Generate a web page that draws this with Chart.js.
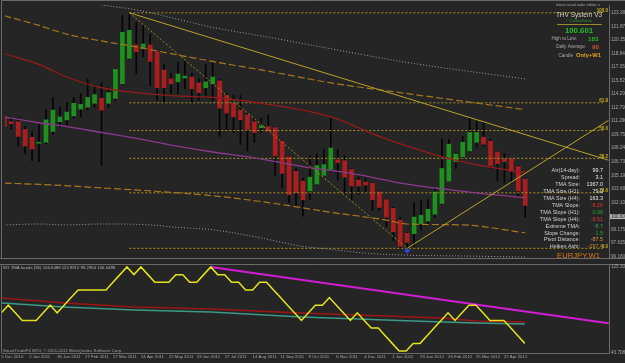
<!DOCTYPE html>
<html><head><meta charset="utf-8">
<script src="https://cdn.jsdelivr.net/npm/chart.js@4.4.0/dist/chart.umd.min.js"></script>
<style>
html,body{margin:0;padding:0;background:#252525;overflow:hidden}
#wrap{position:relative;width:625px;height:363px;background:#252525}
#main{position:absolute;left:0;top:0}
#sub{position:absolute;left:0;top:264px}
</style></head><body>
<div id="wrap">
<canvas id="main" width="625" height="263"></canvas>
<canvas id="sub" width="625" height="99"></canvas>
</div>
<script>
// ── look ─────────────────────────────────────────────────────────────────────
const FONT='"Liberation Sans", Arial, sans-serif';
const FRAME='#6a6a6a', AXIS_TXT='#a8a8a8';
const UP='#1d901d', DN='#ac1e1e';
const X_MIN=0.1, X_MAX=87.06;   // bar index range visible in the window

// ── Heiken Ashi weekly candles, EURJPY W1 (bar 0 = week of 5 Dec 2010) ──────
const haOpen=[111.74,111.20,111.20,110.33,109.46,108.80,108.91,110.11,111.20,111.41,
111.85,112.61,112.83,113.26,113.81,113.26,113.81,115.44,118.27,119.79,
119.36,119.79,119.03,116.96,115.98,115.66,116.09,116.20,115.55,115.00,
115.44,115.77,114.13,113.26,112.50,111.96,111.20,110.54,110.65,110.54,
109.02,107.28,105.65,104.56,103.47,104.23,105.21,105.87,106.95,106.85,
105.87,104.67,104.45,104.34,103.36,102.49,101.52,100.21,98.74,98.69,
99.78,100.10,100.86,102.06,104.56,106.74,107.28,107.93,108.91,109.46,
109.02,107.82,107.06,107.06,106.19,104.78];
const haHigh=[112.30,111.63,111.63,110.65,110.11,110.87,112.50,113.92,112.83,113.37,
113.92,114.35,115.98,115.22,115.55,115.00,117.18,123.05,123.38,122.29,
121.97,120.99,119.03,117.61,116.64,117.83,117.94,116.64,115.98,117.61,
117.72,115.98,114.35,114.13,114.13,112.10,111.60,111.63,111.96,110.60,
109.10,107.35,105.98,104.89,107.39,107.61,108.15,111.63,108.15,107.39,
105.98,105.00,104.89,104.40,103.47,102.60,101.62,100.54,98.80,102.17,
102.39,102.49,103.80,109.24,109.24,107.82,109.57,111.63,111.20,111.20,
109.24,107.90,107.61,107.10,106.30,104.89];
const haLow=[110.20,110.33,108.48,107.61,106.85,106.74,108.69,109.78,110.65,110.87,
111.63,111.74,112.50,112.83,106.30,112.83,113.59,115.30,118.16,116.53,
118.48,115.22,113.59,113.37,114.35,114.35,114.89,113.37,113.59,113.92,
113.59,109.57,110.33,110.00,108.69,107.93,108.91,110.00,110.00,105.21,
103.80,102.17,101.84,100.64,102.49,104.13,105.11,105.65,104.67,103.04,
102.49,103.04,103.26,101.30,101.30,99.45,97.93,97.10,97.05,97.27,
99.12,99.77,100.54,101.95,104.50,105.98,107.06,107.82,108.37,108.48,
105.98,104.56,104.34,104.34,102.71,100.54];
const haClose=[110.65,110.98,109.57,108.48,108.15,108.91,111.41,112.50,111.74,112.28,
113.26,113.15,113.92,114.24,112.50,114.46,117.07,121.20,121.42,119.03,
119.90,117.94,115.00,115.00,115.44,116.53,116.31,114.89,114.46,115.66,
116.20,112.72,112.18,111.74,111.41,110.33,110.00,110.76,110.11,107.39,
105.43,103.04,103.26,102.49,105.00,106.30,106.41,108.26,106.63,105.00,
104.02,104.02,104.13,102.49,101.62,100.54,98.90,97.27,97.71,100.54,
100.75,101.41,103.36,105.98,108.69,107.61,108.91,110.00,110.00,108.69,
106.30,106.52,106.74,105.65,103.47,101.84];

// ── indicator lines on the price window (bar index / price)
const upBandX=[0,5,9,14,19,24,30,38,47,58,75];
const upBandY=[123.05,121.97,120.99,120.23,119.57,118.81,117.94,116.85,115.55,114.35,112.55];
const loBandX=[0,7,14,21,30,38,47,55,58,66,75];
const loBandY=[104.34,104.13,103.80,103.47,102.93,102.17,101.08,100.21,99.77,99.67,98.79];
const redMaX=[0,5,9,14,19,24,30,38,47,54,58,63,68,73,75];
const redMaY=[118.81,117.61,116.20,115.00,114.46,114.13,113.92,113.15,111.74,109.57,108.48,107.28,106.41,105.76,105.54];
const purpMaX=[0,5,9,14,19,24,30,36,43,50,58,68,75];
const purpMaY=[111.74,111.09,110.65,110.00,109.35,108.59,107.82,107.17,106.19,105.43,104.23,103.26,102.71];
const grayUpX=[14,19,24,30,38,47,58,75];
const grayUpY=[124.25,123.71,122.84,121.75,120.66,119.36,117.83,115.98];
const grayLoX=[0,5,9,14,21,24,30,36,43,47,52,58,67,75];
const grayLoY=[99.67,99.77,99.67,99.77,99.67,99.45,99.12,98.36,97.27,96.94,96.51,96.29,96.18,96.07];

// ── drawn objects: fibo retracement + two trend lines
const fibStart=18, fibEnd=86.2, fibLowBar=58;
const fibPrices=[97.05,103.26,107.11,110.22,113.32,123.38];
const fibLabels=['0.0','23.6','38.2','50.0','61.8','100.0'];
const trendDownX=[18,87], trendDownY=[123.38,106.90];
const trendUpX=[58,87],   trendUpY=[97.05,111.36];
const markerX=[58], markerY=[96.78];

// ── right price scale
const priceTicks=[123.380,121.870,120.355,118.840,117.350,115.825,114.290,112.795,111.290,109.750,
108.240,106.735,105.190,103.680,102.100,99.175,97.635,96.160];
const bidPrice=100.601;

// ── sub window (TMA bands oscillator), values in window units
const yellowSub=[5,6,5,4,4,4,5,6,5,6,7,8,8,8,8,8,9,10,11,10,
11,10,9,9,9,10,10,9,9,10,11,10,10,9,9,8,8,9,9,8,
7,6,5,4,5,6,6,7,6,5,4,5,4,3,3,2,1,0,0,1,
1,2,3,4,5,4,5,6,6,5,4,4,4,3,2,1];
const magentaX=[30,87], magentaY=[11,3.62];
const redSubX=[0,9,19,30,43,59,63,68,75];
const redSubY=[6.94,6.29,5.76,5.50,4.98,4.45,4.32,3.93,3.80];
const tealSubX=[0,9,19,30,43,59,68,75];
const tealSubY=[6.29,5.76,5.37,5.11,4.45,3.93,3.67,3.54];
const subScaleLabels=['125.307','43.7087'];

// ── time axis
const dateBars=[0,4,8,12,16,20,24,28,32,36,40,44,48,52,56,60,64,68,72];
const dateLabels=['5 Dec 2010','2 Jan 2011','30 Jan 2011','27 Feb 2011','27 Mar 2011','24 Apr 2011',
'22 May 2011','19 Jun 2011','17 Jul 2011','14 Aug 2011','11 Sep 2011','9 Oct 2011','6 Nov 2011',
'4 Dec 2011','1 Jan 2012','29 Jan 2012','26 Feb 2012','25 Mar 2012','22 Apr 2012'];

// ── text panels
const infoLabels=['Atr(14-day):','Spread:','TMA Size:','TMA Size (H1):','TMA Size (H4):','TMA Slope:',
'TMA Slope (H1):','TMA Slope (H4):','Extreme TMA:','Slope Change:','Pivot Distance:','Heiken Ashi:'];
const infoValues=['99.7','3.1','1367.0','79.2','163.3','-8.26','0.08','-8.51','-8.7','1.5','-87.5','-297.4'];
const infoColors=['#e6e6e6','#e6e6e6','#e6e6e6','#e6e6e6','#e6e6e6','#e03232','#2aa02a','#e03232','#3e9a4a','#2aa02a','#d89a30','#c88c32'];

function pts(xs,ys){return xs.map((x,i)=>({x,y:ys[i]}));}
function put(ctx,s,x,y,size,color,align,bold){
  ctx.font=(bold?'bold ':'')+size+'px '+FONT;
  ctx.fillStyle=color;ctx.textAlign=align||'left';ctx.textBaseline='middle';
  ctx.fillText(s,x,y);
}
function line(xs,ys,color,width,dash,order,tension){
  return {type:'line',data:pts(xs,ys),borderColor:color,borderWidth:width,borderDash:dash||[],
    pointRadius:0,tension:tension||0,cubicInterpolationMode:tension?'monotone':'default',order:order||1};
}

// ── price window ─────────────────────────────────────────────────────────────
const wick=haOpen.map((o,i)=>({x:i,y:[haLow[i],haHigh[i]]}));
const body=haOpen.map((o,i)=>({x:i,y:[o,haClose[i]]}));
const bodyCol=haOpen.map((o,i)=>haClose[i]>=o?UP:DN);

const fibSets=fibPrices.map(p=>line([fibStart,fibEnd],[p,p],'#a89420',1,[2,2],6));

const mainText={id:'mainText',afterDraw(chart){
  const {ctx,chartArea:a,scales:{x,y}}=chart;
  ctx.save();
  ctx.strokeStyle=FRAME;ctx.lineWidth=1;
  ctx.beginPath();
  ctx.moveTo(1.5,a.bottom+0.5);ctx.lineTo(1.5,0.5);ctx.lineTo(625,0.5);
  ctx.moveTo(0,a.bottom+0.5);ctx.lineTo(625,a.bottom+0.5);
  ctx.stroke();
  // fibo level labels
  fibPrices.forEach((p,i)=>{
    ctx.font='bold 4.5px '+FONT;ctx.fillStyle='#c8b41e';ctx.textAlign='right';ctx.textBaseline='bottom';
    ctx.fillText(fibLabels[i],x.getPixelForValue(fibEnd)+5,y.getPixelForValue(p)+0.5);
  });
  // bid price box on the scale
  const by=y.getPixelForValue(bidPrice);
  ctx.fillStyle='#b4b4b4';ctx.fillRect(a.right+1,by-2.5,16,5);
  put(ctx,bidPrice.toFixed(3),a.right+2,by,4.5,'#202020','left');
  // top-right panel
  put(ctx,'latest visual order editor, v',600,5,3.8,'#a0a0a0','right');
  put(ctx,'THV System V3',579,15,6.5,'#d2d2b8','center');
  put(ctx,'\u00a9 CobraForex',579,21,4.2,'#2a9a2a','center');
  ctx.strokeStyle='#9a8a2c';ctx.beginPath();ctx.moveTo(557,24.5);ctx.lineTo(602,24.5);ctx.stroke();
  put(ctx,'100.601',579,31,7.8,'#22c022','center',true);
  put(ctx,'High to Low:',577,39,4.6,'#a8a8a8','right');
  put(ctx,'183',588,39,6.2,'#22b422','left',true);
  put(ctx,'Daily Average:',586,47,4.6,'#a8a8a8','right');
  put(ctx,'90',592,47,6.2,'#d05a28','left',true);
  put(ctx,'Candle',573,55.5,4.6,'#a8a8a8','right');
  put(ctx,'Only+W1',576,55.5,5.8,'#e0a020','left',true);
  // indicator readout
  infoLabels.forEach((s,i)=>{
    const yy=170.7+i*6.93;
    put(ctx,s,580,yy,5.4,'#d0d0d0','right');
    put(ctx,infoValues[i],603,yy,5.4,infoColors[i],'right');
  });
  put(ctx,'EURJPY,W1',557,255.7,7.7,'#d87a14','left');
  ctx.restore();
}};

new Chart(document.getElementById('main'),{
  type:'bar',
  data:{datasets:[
    {type:'bar',data:wick,backgroundColor:'#050505',barThickness:1,grouped:false,order:20,borderWidth:0},
    {type:'bar',data:body,backgroundColor:bodyCol,barThickness:4,grouped:false,order:19,borderWidth:0,minBarLength:1},
    line(grayUpX,grayUpY,'#a0a0a0',1,[1,2],5,0.4),
    line(grayLoX,grayLoY,'#a0a0a0',1,[1,2],5,0.4),
    line(upBandX,upBandY,'#a6761e',1.2,[7,3],4,0.4),
    line(loBandX,loBandY,'#a6761e',1.2,[7,3],4,0.4),
    line(purpMaX,purpMaY,'#8a3a8a',1.3,[],3,0.4),
    line(redMaX,redMaY,'#961a1a',1.3,[],3,0.4),
    ...fibSets,
    line([fibStart,fibLowBar],[fibPrices[5],fibPrices[0]],'#a08c20',1,[2,2],6),
    line(trendDownX,trendDownY,'#b8a42a',1,[],2),
    line(trendUpX,trendUpY,'#b8a42a',1,[],2),
    {type:'line',data:pts(markerX,markerY),showLine:false,pointStyle:'rectRot',pointRadius:2.5,
     pointBackgroundColor:'#2a4ad8',pointBorderColor:'#2a4ad8',order:0}
  ]},
  options:{
    responsive:false,animation:false,
    layout:{padding:{left:2,top:2,right:0,bottom:1}},
    plugins:{legend:{display:false},tooltip:{enabled:false}},
    scales:{
      x:{type:'linear',min:X_MIN,max:X_MAX,display:false,offset:false},
      y:{position:'right',min:95.97,max:124.25,
        grid:{display:false,drawTicks:false},border:{display:true,color:FRAME},
        afterBuildTicks:s=>{s.ticks=priceTicks.map(v=>({value:v}));},
        afterFit:s=>{s.width=16;s.paddingTop=0;s.paddingBottom=0;},
        ticks:{autoSkip:false,padding:2,color:AXIS_TXT,font:{size:4.6,family:FONT},callback:v=>v.toFixed(3)}}
    }
  },
  plugins:[mainText]
});

// ── sub window ───────────────────────────────────────────────────────────────
const subText={id:'subText',afterDraw(chart){
  const {ctx,chartArea:a}=chart;
  ctx.save();
  ctx.strokeStyle=FRAME;ctx.lineWidth=1;
  ctx.beginPath();ctx.moveTo(0,0.5);ctx.lineTo(625,0.5);ctx.moveTo(1.5,0);ctx.lineTo(1.5,a.bottom);ctx.stroke();
  put(ctx,'W1 TMA bands (96) 106.6488 113.9912 98.2964 106.6488',3,a.top+2.5,4.3,'#b4b4b4','left');
  put(ctx,'SmartTradeFX MT4, \u00a9 2001-2011 MetaQuotes Software Corp.',3,a.bottom-1.8,4.3,'#a0a0a0','left');
  put(ctx,subScaleLabels[0],a.right+2,a.top+1.5,4.6,AXIS_TXT,'left');
  put(ctx,subScaleLabels[1],a.right+2,a.bottom-0.5,4.6,AXIS_TXT,'left');
  ctx.restore();
}};

new Chart(document.getElementById('sub'),{
  type:'line',
  data:{datasets:[
    line(redSubX,redSubY,'#9c1616',1.5,[],3),
    line(tealSubX,tealSubY,'#3a9a86',1.5,[],3),
    line(magentaX,magentaY,'#d21ed2',2,[],2),
    {type:'line',data:yellowSub.map((v,i)=>({x:i,y:v})),borderColor:'#e4e41c',borderWidth:1.5,pointRadius:0,tension:0,order:1}
  ]},
  options:{
    responsive:false,animation:false,
    layout:{padding:{left:2,top:1,right:0,bottom:0}},
    plugins:{legend:{display:false},tooltip:{enabled:false}},
    scales:{
      x:{type:'linear',min:X_MIN,max:X_MAX,position:'bottom',offset:false,
        grid:{display:false,drawTicks:false},border:{display:true,color:FRAME},
        afterBuildTicks:s=>{s.ticks=dateBars.map(v=>({value:v}));},
        afterFit:s=>{s.height=10;s.paddingLeft=0;s.paddingRight=0;},
        ticks:{autoSkip:false,maxRotation:0,minRotation:0,align:'start',padding:1,color:AXIS_TXT,
          font:{size:4.3,family:FONT},callback:(v,i)=>dateLabels[i]}},
      y:{position:'right',min:-0.26,max:11.26,grid:{display:false,drawTicks:false},
        border:{display:true,color:FRAME},ticks:{display:false},
        afterFit:s=>{s.width=16;}}
    }
  },
  plugins:[subText]
});
</script>
</body></html>
